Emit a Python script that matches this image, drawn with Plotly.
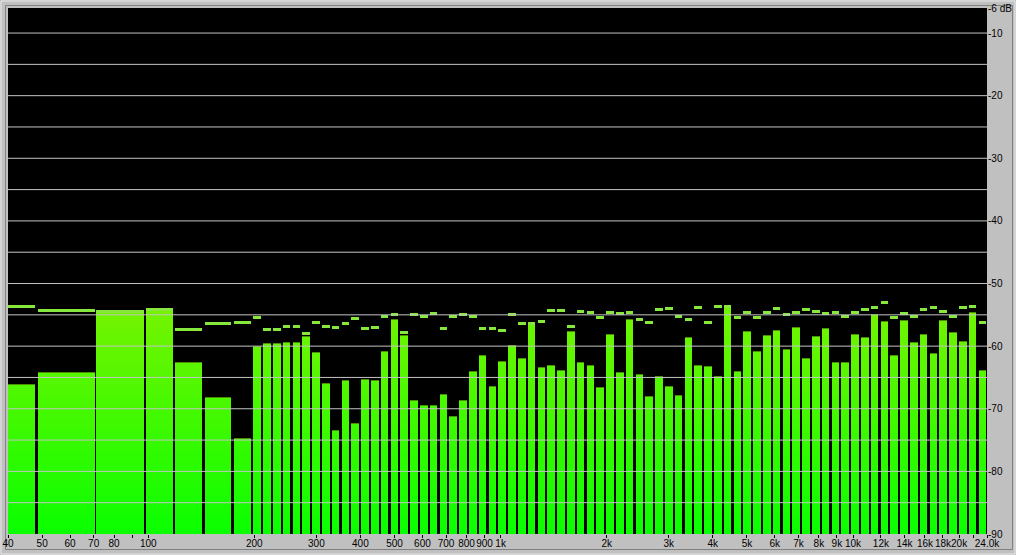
import math
import plotly.graph_objects as go

# ---------------- data ----------------
# wide low-frequency bands (edges in Hz)
low_band_lo_hz = [40.0, 48.6, 71.3, 98.3, 118.8, 144.5, 174.7]
low_band_hi_hz = [47.8, 70.4, 97.0, 117.3, 142.4, 172.1, 196.1]
low_level_db = [-66.1, -64.2, -54.6, -54.2, -62.55, -68.05, -74.7]
low_peak_db = [-53.6, -54.25, -54.5, -54.1, -57.3, -56.45, -56.15]

# narrow log-spaced bands (centre frequency in Hz)
band_center_hz = [
    203.7, 217.2, 231.5, 246.8, 263.2, 280.6, 299.1, 318.9, 340.0, 362.5,
    386.5, 412.1, 439.3, 468.4, 499.3, 532.4, 567.6, 605.1, 645.1, 687.8,
    733.3, 781.8, 833.5, 888.6, 947.4, 1010.1, 1076.9, 1148.1, 1224.0, 1305.0,
    1391.3, 1483.3, 1581.4, 1686.0, 1797.5, 1916.4, 2043.2, 2178.3, 2322.4, 2476.0,
    2639.7, 2814.3, 3000.5, 3198.9, 3410.5, 3636.1, 3876.6, 4132.9, 4406.3, 4697.7,
    5008.4, 5339.7, 5692.9, 6069.4, 6470.8, 6898.8, 7355.1, 7841.5, 8360.1, 8913.1,
    9502.6, 10131.1, 10801.1, 11515.5, 12277.1, 13089.2, 13954.9, 14877.8, 15861.9, 16910.9,
    18029.4, 19221.8, 20493.2, 21848.6, 23293.7,
]
band_level_db = [
    -60.0, -59.5, -59.5, -59.4, -59.4, -58.4, -61.0, -65.9, -73.4, -65.4,
    -72.3, -65.3, -65.4, -60.8, -55.65, -58.25, -68.6, -69.4, -69.4, -67.65,
    -71.2, -68.6, -64.0, -61.45, -66.4, -62.4, -59.8, -61.95, -56.5, -63.35,
    -63.0, -63.8, -57.6, -62.55, -63.0, -66.5, -58.05, -64.15, -55.65, -64.45,
    -67.95, -64.75, -66.4, -67.85, -58.55, -63.05, -63.2, -64.8, -53.8, -63.95,
    -57.6, -60.8, -58.2, -57.4, -60.45, -56.95, -61.9, -58.4, -57.1, -62.55,
    -62.55, -58.05, -58.55, -54.9, -56.0, -61.4, -55.8, -59.35, -58.05, -61.1,
    -55.85, -57.75, -59.2, -54.55, -63.8,
]
band_peak_db = [
    -55.5, -57.4, -57.4, -56.9, -56.9, -58.0, -56.3, -56.9, -57.0, -56.45,
    -55.65, -57.25, -57.0, -55.3, -55.0, -57.75, -55.0, -55.2, -54.75, -57.25,
    -55.3, -55.0, -55.3, -57.25, -57.25, -57.45, -55.0, -56.45, -56.4, -56.0,
    -54.25, -54.25, -56.8, -54.4, -54.7, -55.5, -54.7, -54.8, -54.55, -55.8,
    -56.15, -54.2, -54.05, -55.2, -55.8, -53.9, -56.3, -53.6, -53.7, -55.5,
    -54.7, -55.5, -54.55, -54.05, -55.0, -54.55, -54.2, -54.4, -54.85, -54.7,
    -55.2, -54.7, -54.2, -53.9, -53.1, -55.35, -54.85, -55.2, -54.2, -53.9,
    -54.4, -55.2, -53.9, -53.7, -56.3,
]

freq_ticks_hz = [40, 50, 60, 70, 80, 90, 100, 200, 300, 400, 500, 600, 700, 800, 900,
                 1000, 2000, 3000, 4000, 5000, 6000, 7000, 8000, 9000, 10000,
                 12000, 14000, 16000, 18000, 20000, 22000, 24000]
freq_tick_text = ["40", "50", "60", "70", "80", "", "100", "200", "300", "400", "500", "600",
                  "700", "800", "900", "1k", "2k", "3k", "4k", "5k", "6k", "7k", "8k", "9k",
                  "10k", "12k", "14k", "16k", "18k", "20k", "", "24.0k"]
db_ticks = [-6, -10, -20, -30, -40, -50, -60, -70, -80, -90]
db_tick_text = ["-6 dB", "-10", "-20", "-30", "-40", "-50", "-60", "-70", "-80", "-90"]

# ---------------- geometry helpers ----------------
DB_MIN, DB_MAX = -90, -6
narrow_width_dec = 0.0217  # bar width in decades

xs, ws, levels, peaks = [], [], [], []
for lo, hi, lv, pk in zip(low_band_lo_hz, low_band_hi_hz, low_level_db, low_peak_db):
    a, b = math.log10(lo), math.log10(hi)
    xs.append((a + b) / 2); ws.append(b - a); levels.append(lv); peaks.append(pk)
for fc, lv, pk in zip(band_center_hz, band_level_db, band_peak_db):
    xs.append(math.log10(fc)); ws.append(narrow_width_dec); levels.append(lv); peaks.append(pk)

fig = go.Figure()

# gradient bars: stacked 1 dB slices coloured by absolute level
top = int(math.ceil(max(levels)))
for k in range(DB_MIN, top):
    t = (k + 0.5 - DB_MIN) / (top - DB_MIN)
    r = int(round(10 + 110 * t))
    g = int(round(255 - 12 * t))
    col = f"rgb({r},{g},0)"
    heights = [max(0.0, min(v, k + 1) - k) for v in levels]
    fig.add_trace(go.Bar(x=xs, y=heights, base=[k] * len(xs), width=ws,
                         marker=dict(color=col, line=dict(width=0)),
                         hoverinfo="skip", showlegend=False))

# dark rim at bar tops
fig.add_trace(go.Bar(x=xs, y=[0.16] * len(xs), base=[v - 0.16 for v in levels], width=ws,
                     marker=dict(color="#4d8f00", line=dict(width=0)),
                     hoverinfo="skip", showlegend=False))

# peak-hold dashes
fig.add_trace(go.Bar(x=xs, y=[0.48] * len(xs), base=[p - 0.24 for p in peaks], width=ws,
                     marker=dict(color="#86e83c", line=dict(width=0)),
                     hoverinfo="skip", showlegend=False))

# grid lines over the bars every 5 dB
for v in range(DB_MIN + 5, DB_MAX, 5):
    fig.add_shape(type="line", xref="paper", x0=0, x1=1, yref="y", y0=v, y1=v,
                  line=dict(color="#c4c4c4", width=1), layer="above")

# window frame (sunken border) in paper coordinates around the plot
PW, PH = 1016 - 8 - 29, 555 - 8 - 21
def px(xp):  # pixel -> paper x
    return (xp - 8) / PW
def py(yp):  # pixel -> paper y
    return 1 - (yp - 8) / PH
fig.add_shape(type="rect", xref="paper", yref="paper",
              x0=px(5.5), x1=px(1012.5), y0=py(549.5), y1=py(5.5),
              line=dict(color="#808080", width=1), layer="below")
fig.add_shape(type="rect", xref="paper", yref="paper",
              x0=px(1), x1=px(1015), y0=py(554), y1=py(1),
              line=dict(color="#e8e8e8", width=1), layer="below")

fig.update_layout(
    width=1016, height=555,
    margin=dict(l=8, r=29, t=8, b=21, autoexpand=False),
    paper_bgcolor="#c0c0c0",
    plot_bgcolor="#000000",
    barmode="overlay",
    bargap=0,
    showlegend=False,
    font=dict(family="Liberation Sans, Arial, sans-serif", size=10, color="#000000"),
    xaxis=dict(
        range=[math.log10(40), math.log10(24000)],
        tickmode="array",
        tickvals=[math.log10(f) for f in freq_ticks_hz],
        ticktext=freq_tick_text,
        tickangle=0,
        automargin=False,
        ticks="outside", ticklen=3, tickcolor="#000000", tickwidth=1,
        showgrid=False, zeroline=False, showline=False,
        ticklabelstandoff=-3,
        fixedrange=True,
    ),
    yaxis=dict(
        range=[DB_MIN, DB_MAX],
        side="right",
        tickmode="array",
        tickvals=db_ticks,
        ticktext=db_tick_text,
        automargin=False,
        ticks="", showgrid=False, zeroline=False, showline=False,
        ticklabelstandoff=0,
        fixedrange=True,
    ),
)

fig.write_html(
    "out.html",
    config={"displayModeBar": False, "staticPlot": True},
    post_script="document.body.style.margin='0';document.body.style.background='#c0c0c0';",
)
